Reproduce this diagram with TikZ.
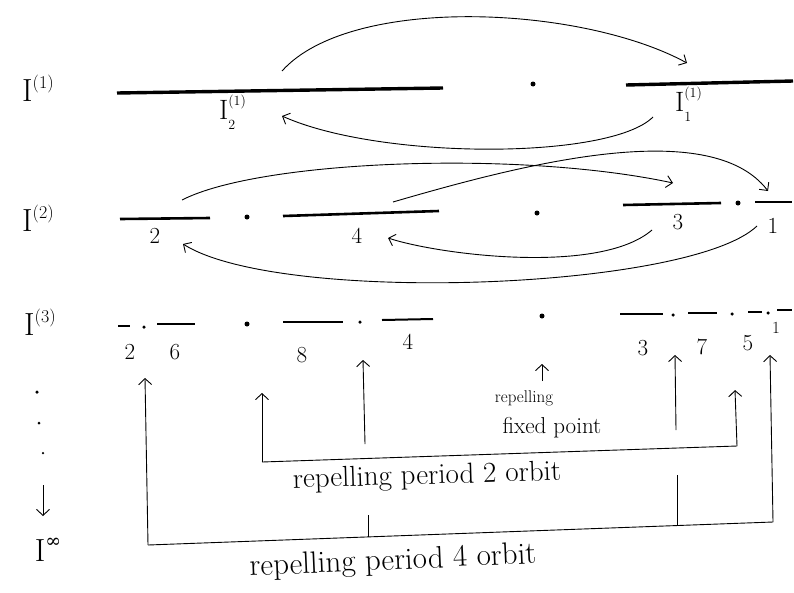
\documentclass[tikz,border=0pt]{standalone}
\usepackage{fontspec}
\newfontfamily\symfnt{DejaVu Serif}
\usetikzlibrary{arrows.meta}
\newcommand\Isup[1]{I\raisebox{0.42em}{\fontsize{18}{18}\selectfont(#1)}}
\newcommand\Isubsup[2]{I\rlap{\raisebox{0.5em}{\fontsize{14}{14}\selectfont(#2)}}\raisebox{-0.36em}{\fontsize{14}{14}\selectfont #1}\hphantom{\fontsize{14}{14}\selectfont(#2)}}
\begin{document}
\begin{tikzpicture}[x=1pt,y=-1pt,
  seg1/.style={line width=3.4pt},
  seg2/.style={line width=2.6pt},
  seg3/.style={line width=2pt},
  curve/.style={line width=0.9pt,-{Straight Barb[length=6pt,width=12pt,line width=0.9pt]}},
  uparr/.style={line width=0.9pt,-{Straight Barb[length=6pt,width=13pt,line width=0.9pt]}},
  brk/.style={line width=0.9pt},
  dot/.style={circle,fill,inner sep=0pt,minimum size=5pt},
  sdot/.style={circle,fill,inner sep=0pt,minimum size=3.5pt},
  big/.style={font=\fontsize{32}{34}\selectfont},
  mid/.style={font=\fontsize{28}{30}\selectfont},
  num/.style={font=\fontsize{23}{25}\selectfont},
  stxt/.style={font=\fontsize{17}{19}\selectfont},
  ftxt/.style={font=\fontsize{23}{25}\selectfont}]
\useasboundingbox (0,0) rectangle (794,592);

% ---------- row 1 ----------
\node[big] (L1) at (38,88) {\Isup{1}};
\coordinate (a1) at (117,93); \coordinate (a2) at (443,88);
\coordinate (b1) at (626,85); \coordinate (b2) at (793,81);
\draw[seg1] (a1) -- (a2);
\draw[seg1] (b1) -- (b2);
\node[dot] (fp1) at (533,84) {};
\node[mid] (I2) at (236,112) {\Isubsup{2}{1}};
\node[mid] (I1) at (692,104) {\Isubsup{1}{1}};
\coordinate (c1s) at (282,71); \coordinate (c1e) at (687,63);
\draw[curve] (c1s) .. controls (350,-5) and (580,5) .. (c1e);
\coordinate (c2s) at (653,117); \coordinate (c2e) at (282,116);
\draw[curve] (c2s) .. controls (610,160) and (380,160) .. (c2e);

% ---------- row 2 ----------
\node[big] (L2) at (38,218) {\Isup{2}};
\coordinate (s2a) at (120,219); \coordinate (s2b) at (210,218);
\coordinate (s4a) at (283,216); \coordinate (s4b) at (439,211);
\coordinate (s3a) at (623,205); \coordinate (s3b) at (721,203);
\coordinate (s1a) at (755,202); \coordinate (s1b) at (792,202);
\draw[seg2] (s2a) -- (s2b);
\draw[seg2] (s4a) -- (s4b);
\draw[seg2] (s3a) -- (s3b);
\draw[seg2] (s1a) -- (s1b);
\node[dot] (d2a) at (247,217) {};
\node[dot] (d2b) at (537,213) {};
\node[dot] (d2c) at (738,203) {};
\node[num] (n2) at (155,236) {2};
\node[num] (n4) at (357,236) {4};
\node[num] (n3) at (678,222) {3};
\node[num] (n1) at (773,226) {1};
\coordinate (e1s) at (182,200); \coordinate (e1e) at (673,183);
\draw[curve] (e1s) .. controls (260,160) and (520,150) .. (e1e);
\coordinate (e2s) at (393,202); \coordinate (e2e) at (768,191);
\draw[curve] (e2s) .. controls (520,165) and (710,115) .. (e2e);
\coordinate (e3s) at (652,230); \coordinate (e3e) at (388,238);
\draw[curve] (e3s) .. controls (600,275) and (440,255) .. (e3e);
\coordinate (e4s) at (757,226); \coordinate (e4e) at (183,244);
\draw[curve] (e4s) .. controls (690,290) and (280,305) .. (e4e);

% ---------- row 3 ----------
\node[big] (L3) at (40,322) {\Isup{3}};
\draw[seg3] (118,326) coordinate (t1a) -- (130,326) coordinate (t1b);
\draw[seg3] (157,324) coordinate (t2a) -- (195,324) coordinate (t2b);
\draw[seg3] (283,322) coordinate (t3a) -- (343,322) coordinate (t3b);
\draw[seg3] (382,320) coordinate (t4a) -- (433,319) coordinate (t4b);
\draw[seg3] (620,314) coordinate (t5a) -- (663,314) coordinate (t5b);
\draw[seg3] (688,313) coordinate (t6a) -- (717,313) coordinate (t6b);
\draw[seg3] (748,312) coordinate (t7a) -- (762,312) coordinate (t7b);
\draw[seg3] (777,310) coordinate (t8a) -- (792,310) coordinate (t8b);
\node[sdot] (p1) at (144,327) {};
\node[dot] (p2) at (247,324) {};
\node[sdot] (p3) at (360,322) {};
\node[dot] (p4) at (542,316) {};
\node[sdot] (p5) at (673,315) {};
\node[sdot] (p6) at (732,314) {};
\node[sdot] (p7) at (768,313) {};
\node[num] (m2) at (130,352) {2};
\node[num] (m6) at (175,352) {6};
\node[num] (m8) at (302,355) {8};
\node[num] (m4) at (408,342) {4};
\node[num] (m3) at (643,348) {3};
\node[num] (m7) at (702,347) {7};
\node[num] (m5) at (748,343) {5};
\node[num,font=\fontsize{17}{19}\selectfont] (m1) at (776,328) {1};

% fixed point
\coordinate (fpb) at (542,381); \coordinate (fpt) at (542,364);
\draw[uparr] (fpb) -- (fpt);
\node[stxt] (rep) at (524,398) {repelling};
\node[ftxt] (fix) at (552,428) {fixed point};

% period 2 orbit
\coordinate (q1t) at (262,393); \coordinate (q1b) at (262,462);
\coordinate (q2t) at (735,390); \coordinate (q2b) at (737,446);
\draw[uparr] (q1b) -- (q1t);
\draw[uparr] (q2b) -- (q2t);
\draw[brk] (q1b) -- (q2b);
\node[font=\fontsize{29}{31}\selectfont,rotate=1.7] (per2) at (427,477) {repelling period 2 orbit};

% period 4 orbit
\coordinate (r1t) at (145,378); \coordinate (r1b) at (148,545);
\coordinate (r4t) at (770,355); \coordinate (r4b) at (773,522);
\draw[uparr] (r1b) -- (r1t);
\draw[uparr] (r4b) -- (r4t);
\draw[brk] (r1b) -- (r4b);
\coordinate (r2t) at (363,360); \coordinate (r2m) at (365,444);
\coordinate (r2u) at (368,515); \coordinate (r2b) at (368,537);
\draw[uparr] (r2m) -- (r2t);
\draw[brk] (r2u) -- (r2b);
\coordinate (r3t) at (675,355); \coordinate (r3m) at (676,430);
\coordinate (r3u) at (677,475); \coordinate (r3b) at (677,526);
\draw[uparr] (r3m) -- (r3t);
\draw[brk] (r3u) -- (r3b);
\node[font=\fontsize{31}{33}\selectfont,rotate=2.5] (per4) at (393,562) {repelling period 4 orbit};

% left column
\node[sdot] (v1) at (37,392) {};
\node[sdot,minimum size=3pt] (v2) at (39,423) {};
\node[sdot,minimum size=2.5pt] (v3) at (43,453) {};
\coordinate (da) at (43,485); \coordinate (db) at (43,516);
\draw[uparr] (da) -- (db);
\node[big] (Linf) at (48,550) {I\raisebox{0.42em}{\fontsize{19}{19}\symfnt ∞}};
\end{tikzpicture}
\end{document}
